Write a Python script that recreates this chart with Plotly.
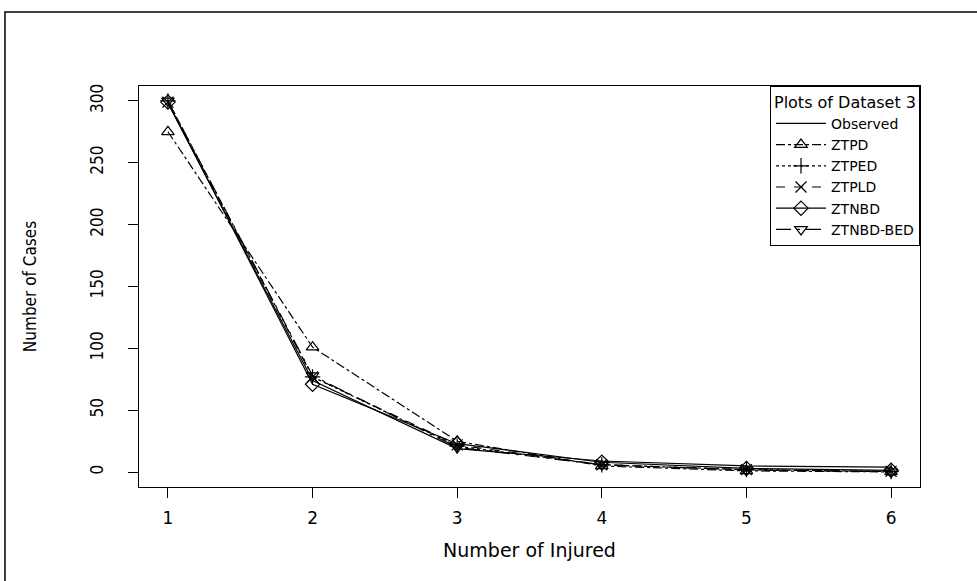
import plotly.graph_objects as go

injured = [1, 2, 3, 4, 5, 6]
observed = [298, 74, 19, 9, 5, 4]
ztpd = [275, 101, 25, 5, 1, 0.2]
ztped = [300, 77, 21, 6, 2, 0.5]
ztpld = [299, 77, 22, 6, 2, 0.6]
ztnbd = [299, 71, 23, 8, 3, 1.5]
ztnbd_bed = [300, 78, 20, 6, 1.8, 0.5]
y_ticks = [0, 50, 100, 150, 200, 250, 300]

series = [
    ("Observed", observed, "solid", None),
    ("ZTPD", ztpd, "dashdot", "triangle-up-open"),
    ("ZTPED", ztped, "dot", "cross-thin-open"),
    ("ZTPLD", ztpld, "dash", "x-thin-open"),
    ("ZTNBD", ztnbd, "solid", "diamond-open"),
    ("ZTNBD-BED", ztnbd_bed, "longdashdot", "triangle-down-open"),
]

fig = go.Figure()
for name, vals, dash, sym in series:
    fig.add_trace(go.Scatter(
        x=injured, y=vals, name=name,
        mode="lines" if sym is None else "lines+markers",
        line=dict(color="black", width=1.2, dash=dash),
        marker=dict(symbol=sym or "circle", size=11, color="black",
                    line=dict(color="black", width=1.2)),
    ))

font_wide = "DejaVu Sans, Liberation Sans, Arial, sans-serif"
font_narrow = "Liberation Sans Narrow, DejaVu Sans Condensed, Liberation Sans, Arial, sans-serif"

fig.update_layout(
    width=977, height=581,
    paper_bgcolor="white", plot_bgcolor="white",
    margin=dict(l=139, r=57, t=86, b=94),
    font=dict(family=font_wide, color="black", size=14),
    showlegend=True,
    legend=dict(
        x=1, y=1, xanchor="right", yanchor="top",
        bgcolor="white", bordercolor="black", borderwidth=1,
        font=dict(size=14, family=font_wide),
        title=dict(text="Plots of Dataset 3", font=dict(size=16, family=font_wide),
                   side="top center"),
        itemwidth=50, tracegroupgap=0,
    ),
    xaxis=dict(
        range=[0.8, 6.2], tickvals=injured, ticks="outside", ticklen=10,
        tickcolor="black", showline=True, linecolor="black", linewidth=1,
        mirror=True, showgrid=False, zeroline=False,
        tickfont=dict(size=17, family=font_wide), ticklabelstandoff=6,
        title=dict(text="Number of Injured", font=dict(size=19, family=font_wide), standoff=16),
    ),
    yaxis=dict(
        range=[-12, 312], tickvals=y_ticks, ticks="outside", ticklen=10,
        tickcolor="black", showline=True, linecolor="black", linewidth=1,
        mirror=True, showgrid=False, zeroline=False, tickangle=-90,
        tickfont=dict(size=17, family=font_narrow), ticklabelstandoff=18,
        title=dict(text="Number of Cases", font=dict(size=17, family=font_narrow), standoff=46),
    ),
)

# outer frame of the original figure
fig.add_shape(type="rect", xref="paper", yref="paper",
              x0=-0.1716, x1=1.1, y0=-0.3, y1=1.1845,
              line=dict(color="black", width=1.5), layer="below")

fig.write_html("out.html", config={"displayModeBar": False},
               post_script="document.body.style.margin='0px';")
